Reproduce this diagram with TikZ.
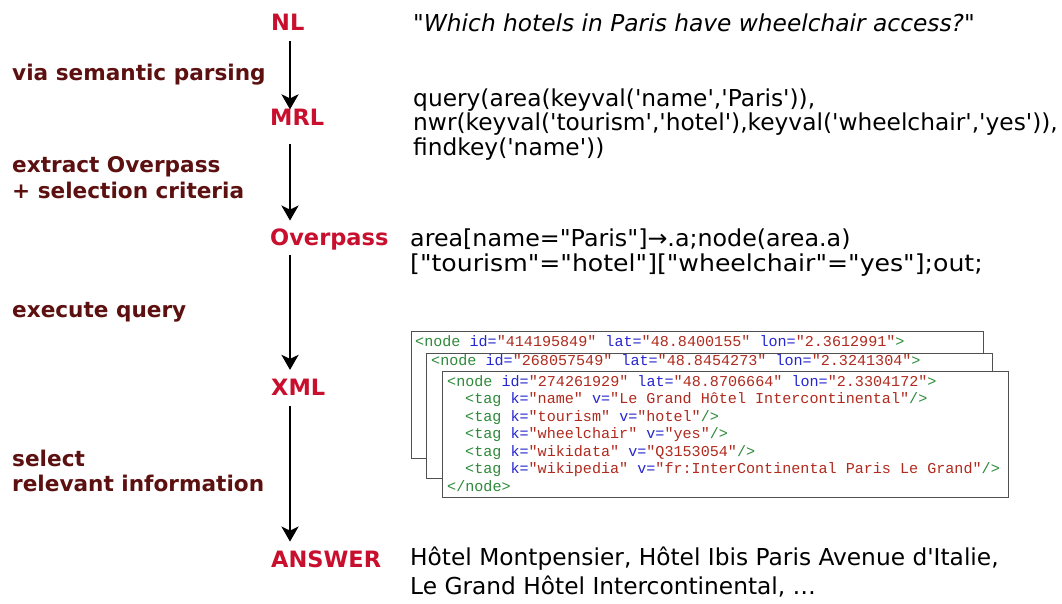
\documentclass[tikz,border=0pt]{standalone}
\usepackage{fontspec}
\usepackage{graphicx}
\setmainfont{DejaVu Sans}[Ligatures=TeXOff]
\setmonofont{Liberation Mono}
\usetikzlibrary{arrows.meta}
\definecolor{lblred}{HTML}{C8102E}
\definecolor{lblbrown}{HTML}{5C1010}
\definecolor{xgreen}{HTML}{2E8A3A}
\definecolor{xblue}{HTML}{2626D0}
\definecolor{xred}{HTML}{B02A1E}
\definecolor{boxgray}{HTML}{505050}
\newcommand\xg[1]{\textcolor{xgreen}{#1}}
\newcommand\xb[1]{\textcolor{xblue}{#1}}
\newcommand\xr[1]{\textcolor{xred}{#1}}
\begin{document}
\begin{tikzpicture}[x=1pt,y=-1pt,
  lbl/.style={font=\bfseries\fontsize{22.5}{26}\selectfont, text=lblred, inner sep=0pt, anchor=base west},
  desc/.style={font=\bfseries\fontsize{21.6}{25}\selectfont, text=lblbrown, inner sep=0pt, anchor=base west},
  txt/.style={font=\fontsize{23.3}{26}\selectfont, inner sep=0pt, anchor=base west},
  code/.style={font=\ttfamily\fontsize{15.1}{17}\selectfont, inner sep=0pt, anchor=base west},
  xmlbox/.style={draw=boxgray, line width=1.3pt, fill=white, inner sep=0pt, anchor=north west},
  arr/.style={line width=2.7pt, -{Stealth[length=15pt,width=17pt,inset=4pt]}}]
\useasboundingbox (0,0) rectangle (1062,604);
\fill[white] (0,0) rectangle (1062,604);
\coordinate (ax) at (290,0);
% stage labels
\node[lbl] (nl) at (271,31) {NL};
\node[lbl] (mrl) at (270,126) {MRL};
\node[lbl] (ovp) at (270,245) {Overpass};
\node[lbl] (xml) at (271,395) {XML};
\node[lbl] (ans) at (271,567) {ANSWER};
% arrows
\draw[arr, shorten <=10pt] (nl.base -| ax) -- (mrl.north -| ax);
\draw[arr, shorten <=18pt, shorten >=7.5pt] (mrl.base -| ax) -- (ovp.north -| ax);
\draw[arr, shorten <=10pt, shorten >=8.5pt] (ovp.base -| ax) -- (xml.north -| ax);
\draw[arr, shorten <=11pt, shorten >=8.5pt] (xml.base -| ax) -- (ans.north -| ax);
% step descriptions
\node[desc] (d1) at (12,81) {via semantic parsing};
\node[desc] (d2a) at (12,173) {extract Overpass};
\node[desc] (d2b) at (12,198) {+ selection criteria};
\node[desc] (d3) at (12,317) {execute query};
\node[desc] (d4a) at (12,466) {select};
\node[desc] (d4b) at (12,491) {relevant information};
% right-hand texts
\node[txt, font=\itshape\fontsize{23.3}{26}\selectfont] (q) at (413,32) {"Which hotels in Paris have wheelchair access?"};
\node[txt] (m1) at (413,107) {query(area(keyval('name','Paris')),};
\node[txt] (m2) at (413,131) {nwr(keyval('tourism','hotel'),keyval('wheelchair','yes')),};
\node[txt] (m3) at (413,156) {findkey('name'))};
\node[txt] (o1) at (410,246) {\scalebox{1.02}[1]{area[name="Paris"]→.a;node(area.a)}};
\node[txt] (o2) at (410,271) {\scalebox{1.08}[1]{["tourism"="hotel"]["wheelchair"="yes"];out;}};
\node[txt] (a1) at (410,565) {Hôtel Montpensier, Hôtel Ibis Paris Avenue d'Italie,};
\node[txt] (a2) at (410,594) {Le Grand Hôtel Intercontinental, …};
% XML boxes
\node[xmlbox, minimum width=572pt, minimum height=127pt] (b1) at (411,331) {};
\node[code] (b1l1) at (415,346) {\xg{<node} \xb{id=}\xr{"414195849"} \xb{lat=}\xr{"48.8400155"} \xb{lon=}\xr{"2.3612991"}\xg{>}};
\node[xmlbox, minimum width=566pt, minimum height=125pt] (b2) at (426,353) {};
\node[code] (b2l1) at (431,365) {\xg{<node} \xb{id=}\xr{"268057549"} \xb{lat=}\xr{"48.8454273"} \xb{lon=}\xr{"2.3241304"}\xg{>}};
\node[xmlbox, minimum width=566pt, minimum height=126pt] (b3) at (442,371) {};
\node[code] (c1) at (447,386) {\xg{<node} \xb{id=}\xr{"274261929"} \xb{lat=}\xr{"48.8706664"} \xb{lon=}\xr{"2.3304172"}\xg{>}};
\node[code] (c2) at (465,403.5) {\xg{<tag} \xb{k=}\xr{"name"} \xb{v=}\xr{"Le Grand Hôtel Intercontinental"}\xg{/>}};
\node[code] (c3) at (465,421) {\xg{<tag} \xb{k=}\xr{"tourism"} \xb{v=}\xr{"hotel"}\xg{/>}};
\node[code] (c4) at (465,438.5) {\xg{<tag} \xb{k=}\xr{"wheelchair"} \xb{v=}\xr{"yes"}\xg{/>}};
\node[code] (c5) at (465,456) {\xg{<tag} \xb{k=}\xr{"wikidata"} \xb{v=}\xr{"Q3153054"}\xg{/>}};
\node[code] (c6) at (465,473.5) {\xg{<tag} \xb{k=}\xr{"wikipedia"} \xb{v=}\xr{"fr:InterContinental Paris Le Grand"}\xg{/>}};
\node[code] (c7) at (447,491) {\xg{</node>}};
\end{tikzpicture}
\end{document}
